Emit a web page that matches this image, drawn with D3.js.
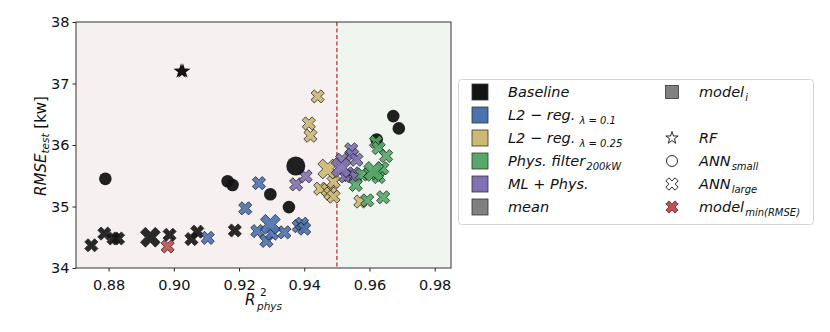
<!DOCTYPE html>
<html>
<head>
<meta charset="utf-8">
<script src="https://cdn.jsdelivr.net/npm/d3@7"></script>
<style>
  body { margin: 0; background: #fff; }
  text { font-family: "DejaVu Sans", sans-serif; fill: #111; }
</style>
</head>
<body>
<script>
// Set up data (R2_phys, RMSE_test, model type per point)
const baseR2    = [0.8747, 0.8787, 0.8815, 0.8829, 0.8987, 0.9054, 0.9072, 0.9187, 0.8790, 0.9165, 0.9180, 0.9296, 0.9353, 0.9622, 0.9673, 0.9690, 0.9022, 0.9028];
const baseRmse  = [34.37, 34.56, 34.48, 34.48, 34.54, 34.47, 34.59, 34.61, 35.45, 35.41, 35.35, 35.20, 34.99, 36.09, 36.47, 36.27, 37.20, 37.20];
const baseModel = ['X', 'X', 'X', 'X', 'X', 'X', 'X', 'X', 'o', 'o', 'o', 'o', 'o', 'o', 'o', 'o', '*', '*'];

const l2aR2   = [0.9104, 0.9219, 0.9261, 0.9256, 0.9284, 0.9301, 0.9339, 0.9383, 0.9393, 0.9400];
const l2aRmse = [34.49, 34.97, 35.38, 34.60, 34.44, 34.56, 34.58, 34.68, 34.72, 34.64];

const l2bR2   = [0.9441, 0.9414, 0.9419, 0.9449, 0.9472, 0.9490, 0.9480, 0.9490, 0.9572];
const l2bRmse = [36.79, 36.35, 36.15, 35.29, 35.27, 35.40, 35.21, 35.16, 35.08];

const physR2   = [0.9620, 0.9628, 0.9651, 0.9628, 0.9577, 0.9558, 0.9593, 0.9642, 0.9602, 0.9639];
const physRmse = [36.05, 35.95, 35.82, 35.48, 35.52, 35.35, 35.10, 35.15, 35.54, 35.62];

const mlR2   = [0.9375, 0.9404, 0.9516, 0.9544, 0.9547, 0.9560, 0.9536, 0.9552, 0.9526, 0.9557];
const mlRmse = [35.36, 35.49, 35.76, 35.93, 35.84, 35.76, 35.51, 35.54, 35.49, 35.48];

// group means (large markers)
const meanGroup = ['Baseline', 'Baseline', 'L2a', 'L2b', 'ML', 'Phys'];
const meanModel = ['X', 'o', 'X', 'X', 'X', 'X'];
const meanR2    = [0.8928, 0.9374, 0.9296, 0.9472, 0.9513, 0.9613];
const meanRmse  = [34.50, 35.66, 34.71, 35.61, 35.63, 35.57];

// best model
const bestR2 = [0.8981];
const bestRmse = [34.35];

const xTicks = [0.88, 0.90, 0.92, 0.94, 0.96, 0.98];
const yTicks = [34, 35, 36, 37, 38];
const threshold = 0.95;

const colors = {
  Baseline: '#141414', L2a: '#4c72b0', L2b: '#ccb974',
  Phys: '#55a868', ML: '#8172b3', mean: '#808080', best: '#c44e52'
};

// Set up dimensions
const width = 830, height = 332;
const margin = { left: 76, right: 379, top: 22, bottom: 64 };

const svg = d3.select('body').append('svg')
  .attr('width', width).attr('height', height);

const x = d3.scaleLinear().domain([0.870, 0.985]).range([margin.left, width - margin.right]);
const y = d3.scaleLinear().domain([34, 38]).range([height - margin.bottom, margin.top]);

// background regions
svg.append('rect')
  .attr('x', x(0.870)).attr('y', y(38))
  .attr('width', x(threshold) - x(0.870)).attr('height', y(34) - y(38))
  .attr('fill', '#f7f0f0');
svg.append('rect')
  .attr('x', x(threshold)).attr('y', y(38))
  .attr('width', x(0.985) - x(threshold)).attr('height', y(34) - y(38))
  .attr('fill', '#f0f5ef');

// threshold line (under the markers)
svg.append('line')
  .attr('x1', x(threshold)).attr('x2', x(threshold))
  .attr('y1', y(38)).attr('y2', y(34))
  .attr('stroke', '#c44e52').attr('stroke-width', 1.5)
  .attr('stroke-dasharray', '4,2.5');

// marker shapes
function xShape(s) {
  const pts = [[-1, -3], [1, -3], [1, -1], [3, -1], [3, 1], [1, 1],
               [1, 3], [-1, 3], [-1, 1], [-3, 1], [-3, -1], [-1, -1]];
  const c = Math.SQRT1_2;
  return 'M' + pts.map(([a, b]) => {
    const px = (a * c - b * c) / 6 * s, py = (a * c + b * c) / 6 * s;
    return px.toFixed(2) + ',' + py.toFixed(2);
  }).join('L') + 'Z';
}
function starShape(s) {
  const pts = [];
  for (let i = 0; i < 10; i++) {
    const r = (i % 2 === 0 ? 0.5 : 0.5 * 0.381966) * s;
    const a = -Math.PI / 2 + i * Math.PI / 5;
    pts.push([r * Math.cos(a), r * Math.sin(a)]);
  }
  return 'M' + pts.map(p => p[0].toFixed(2) + ',' + p[1].toFixed(2)).join('L') + 'Z';
}

function drawPoint(g, model, cx, cy, fill, big) {
  if (model === 'X') {
    g.append('path').attr('d', xShape(big ? 21 : 14))
      .attr('transform', `translate(${cx},${cy})`)
      .attr('fill', fill).attr('stroke', '#111').attr('stroke-width', 0.8)
      .attr('opacity', 0.9);
  } else if (model === 'o') {
    g.append('circle').attr('cx', cx).attr('cy', cy).attr('r', big ? 9.5 : 6.3)
      .attr('fill', fill).attr('opacity', 0.95);
  } else {
    g.append('path').attr('d', starShape(16))
      .attr('transform', `translate(${cx},${cy})`)
      .attr('fill', fill);
  }
}

const marks = svg.append('g');
baseR2.forEach((v, i) => drawPoint(marks, baseModel[i], x(v), y(baseRmse[i]), colors.Baseline, false));
l2aR2.forEach((v, i) => drawPoint(marks, 'X', x(v), y(l2aRmse[i]), colors.L2a, false));
l2bR2.forEach((v, i) => drawPoint(marks, 'X', x(v), y(l2bRmse[i]), colors.L2b, false));
mlR2.forEach((v, i) => drawPoint(marks, 'X', x(v), y(mlRmse[i]), colors.ML, false));
physR2.forEach((v, i) => drawPoint(marks, 'X', x(v), y(physRmse[i]), colors.Phys, false));
meanR2.forEach((v, i) => drawPoint(marks, meanModel[i], x(v), y(meanRmse[i]), colors[meanGroup[i]], true));
bestR2.forEach((v, i) => drawPoint(marks, 'X', x(v), y(bestRmse[i]), colors.best, false));

// axes
const xAxis = svg.append('g')
  .attr('transform', `translate(0,${y(34)})`)
  .call(d3.axisBottom(x).tickValues(xTicks).tickFormat(d3.format('.2f')).tickSize(3.5).tickSizeOuter(0));
const yAxis = svg.append('g')
  .attr('transform', `translate(${x(0.870)},0)`)
  .call(d3.axisLeft(y).tickValues(yTicks).tickFormat(d3.format('d')).tickSize(3.5).tickSizeOuter(0));
[xAxis, yAxis].forEach(a => {
  a.selectAll('text').style('font-size', '14.5px').style('font-family', '"DejaVu Sans", sans-serif').attr('fill', '#111');
  a.selectAll('.tick line').attr('stroke', '#222');
  a.select('.domain').remove();
});
xAxis.selectAll('text').attr('dy', '1.05em');

// frame
svg.append('rect')
  .attr('x', x(0.870)).attr('y', y(38))
  .attr('width', x(0.985) - x(0.870)).attr('height', y(34) - y(38))
  .attr('fill', 'none').attr('stroke', '#333').attr('stroke-width', 1);

// axis labels
const xl = svg.append('text').attr('x', 245).attr('y', 305).style('font-size', '15px');
xl.append('tspan').attr('font-style', 'italic').text('R');
svg.append('text').attr('x', 260).attr('y', 296).style('font-size', '10.5px').text('2');
svg.append('text').attr('x', 257).attr('y', 310).style('font-size', '10.5px').attr('font-style', 'italic').text('phys');

const yl = svg.append('text')
  .attr('transform', 'translate(46,146) rotate(-90)')
  .attr('text-anchor', 'middle').style('font-size', '15px');
yl.append('tspan').attr('font-style', 'italic').text('RMSE');
yl.append('tspan').attr('font-style', 'italic').attr('dy', 3).style('font-size', '10.5px').text('test');
yl.append('tspan').attr('dy', -3).text(' [kw]');

// legend
const lg = svg.append('g');
lg.append('rect').attr('x', 458.5).attr('y', 79.5).attr('width', 355).attr('height', 145)
  .attr('rx', 3).attr('fill', '#fff').attr('stroke', '#d4d4d4');

const legendRows = [92, 115, 138, 161, 184, 207];
const legendLeft = [
  { c: colors.Baseline, main: 'Baseline', sub: '' },
  { c: colors.L2a, main: 'L2 − reg.', sub: 'λ = 0.1' },
  { c: colors.L2b, main: 'L2 − reg.', sub: 'λ = 0.25' },
  { c: colors.Phys, main: 'Phys. filter', sub: '200kW', tight: true },
  { c: colors.ML, main: 'ML + Phys.', sub: '' },
  { c: colors.mean, main: 'mean', sub: '' }
];
function legendText(tx, ty, main, sub, tight) {
  const t = lg.append('text').attr('x', tx).attr('y', ty + 5).style('font-size', '14.5px').attr('font-style', 'italic');
  t.append('tspan').text(main);
  if (sub) {
    t.append('tspan').attr('dx', tight ? 1 : 4).attr('dy', 4).style('font-size', '10px').text(sub);
  }
}
legendLeft.forEach((d, i) => {
  lg.append('rect').attr('x', 472).attr('y', legendRows[i] - 8).attr('width', 16).attr('height', 16)
    .attr('fill', d.c).attr('stroke', '#333').attr('stroke-width', 0.8);
  legendText(508, legendRows[i], d.main, d.sub, d.tight);
});

// right column
lg.append('rect').attr('x', 665.5).attr('y', legendRows[0] - 6.5).attr('width', 13).attr('height', 13)
  .attr('fill', colors.mean).attr('stroke', '#333').attr('stroke-width', 0.8);
legendText(699, legendRows[0], 'model', 'i', true);

lg.append('path').attr('d', starShape(13)).attr('transform', `translate(672,${legendRows[2]})`)
  .attr('fill', '#fff').attr('stroke', '#111').attr('stroke-width', 0.9);
legendText(699, legendRows[2], 'RF', '');

lg.append('circle').attr('cx', 672).attr('cy', legendRows[3]).attr('r', 5.5)
  .attr('fill', '#fff').attr('stroke', '#111').attr('stroke-width', 0.9);
legendText(699, legendRows[3], 'ANN', 'small', true);

lg.append('path').attr('d', xShape(13)).attr('transform', `translate(672,${legendRows[4]})`)
  .attr('fill', '#fff').attr('stroke', '#111').attr('stroke-width', 0.9);
legendText(699, legendRows[4], 'ANN', 'large', true);

lg.append('path').attr('d', xShape(13)).attr('transform', `translate(672,${legendRows[5]})`)
  .attr('fill', colors.best).attr('stroke', '#111').attr('stroke-width', 0.6);
legendText(699, legendRows[5], 'model', 'min(RMSE)', true);
</script>
</body>
</html>
